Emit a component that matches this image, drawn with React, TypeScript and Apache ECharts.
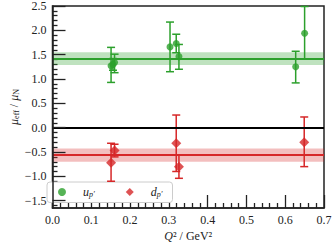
import React, { useEffect, useRef } from "react";
import * as echarts from "echarts";

const uQ2 = [0.151, 0.156, 0.160, 0.303, 0.319, 0.326, 0.627, 0.650];
const uVal = [1.27, 1.30, 1.34, 1.66, 1.73, 1.46, 1.25, 1.94];
const uLow = [0.93, 1.18, 1.13, 1.15, 1.54, 1.20, 0.92, 1.41];
const uHigh = [1.65, 1.42, 1.51, 2.17, 1.92, 1.71, 1.57, 2.49];

const dQ2 = [0.151, 0.160, 0.319, 0.326, 0.649];
const dVal = [-0.72, -0.47, -0.32, -0.80, -0.30];
const dLow = [-1.10, -0.60, -0.90, -1.04, -0.80];
const dHigh = [-0.32, -0.34, 0.26, -0.56, 0.22];

// [low, center, high]
const uBand = [1.29, 1.42, 1.55];
const dBand = [-0.70, -0.565, -0.43];

const yTicks = [-1.5, -1.0, -0.5, 0.0, 0.5, 1.0, 1.5, 2.0, 2.5];
const yMinorTicks = [
  -1.6, -1.4, -1.3, -1.2, -1.1, -0.9, -0.8, -0.7, -0.6, -0.4, -0.3, -0.2, -0.1,
  0.1, 0.2, 0.3, 0.4, 0.6, 0.7, 0.8, 0.9, 1.1, 1.2, 1.3, 1.4, 1.6, 1.7, 1.8, 1.9,
  2.1, 2.2, 2.3, 2.4,
];

const GREEN = "#2ca02c";
const RED = "#d62728";
const FONT = "'Liberation Serif', 'DejaVu Serif', serif";

function errSeries(name: string, xs: number[], lo: number[], hi: number[], color: string) {
  return {
    type: "custom",
    name: name + "_err",
    silent: true,
    data: xs.map((x, i) => [x, lo[i], hi[i]]),
    encode: { x: 0, y: [1, 2] },
    z: 3,
    renderItem: (params: any, api: any) => {
      const x = api.value(0);
      const p1 = api.coord([x, api.value(1)]);
      const p2 = api.coord([x, api.value(2)]);
      const hw = 4;
      const st = { stroke: color, lineWidth: 1.5 };
      return {
        type: "group",
        children: [
          { type: "line", shape: { x1: p1[0], y1: p1[1], x2: p2[0], y2: p2[1] }, style: st },
          { type: "line", shape: { x1: p1[0] - hw, y1: p1[1], x2: p1[0] + hw, y2: p1[1] }, style: st },
          { type: "line", shape: { x1: p2[0] - hw, y1: p2[1], x2: p2[0] + hw, y2: p2[1] }, style: st },
        ],
      };
    },
  };
}

const fmtY = (v: number) => {
  const s = Math.abs(v).toFixed(1);
  return v < -0.001 ? "−" + s : s;
};

export default function App() {
  const ref = useRef<HTMLDivElement>(null);
  useEffect(() => {
    const chart = echarts.init(ref.current!, null, { renderer: "svg" });
    const labelStyle = { fontFamily: FONT, fontSize: 12, color: "#222" };
    chart.setOption({
      animation: false,
      textStyle: { fontFamily: FONT },
      grid: {
        left: 41, right: 11, top: 3, bottom: 43,
        show: true, borderColor: "#222", borderWidth: 1.5, backgroundColor: "transparent",
      },
      legend: {
        left: 47, top: 182,
        padding: [4, 10, 4, 11],
        itemWidth: 8, itemHeight: 8, itemGap: 31,
        borderColor: "#ccc", borderWidth: 1, borderRadius: 3,
        backgroundColor: "#fff",
        z: 2,
        data: [
          { name: "u", icon: "circle" },
          { name: "d", icon: "diamond" },
        ],
        formatter: (n: string) => `{i|\u2003${n}}{s|p′}`,
        textStyle: {
          fontFamily: FONT,
          rich: {
            i: { fontFamily: FONT, fontStyle: "italic", fontSize: 12, color: "#222" },
            s: { fontFamily: FONT, fontStyle: "italic", fontSize: 8, color: "#222", padding: [5, 0, 0, 0] },
          },
        },
      },
      xAxis: {
        type: "value", min: 0, max: 0.7, interval: 0.1,
        name: "{i|Q}² / GeV²",
        nameLocation: "middle", nameGap: 22, nameMoveOverlap: false,
        nameTextStyle: {
          fontFamily: FONT, fontSize: 12, color: "#222",
          rich: { i: { fontFamily: FONT, fontStyle: "italic", fontSize: 12, color: "#222" } },
        },
        axisLine: { show: true, onZero: false, lineStyle: { color: "#222", width: 1.5 } },
        axisTick: { show: true, inside: true, length: 13, lineStyle: { color: "#222", width: 1.3 } },
        minorTick: { show: true, splitNumber: 5, length: 5, lineStyle: { color: "#222", width: 1.3 } },
        splitLine: { show: false },
        minorSplitLine: { show: false },
        axisLabel: { ...labelStyle, margin: 6, formatter: (v: number) => v.toFixed(1) },
      },
      yAxis: [
        {
          type: "value", min: -1.65, max: 2.5,
          name: "{m|μ}{s|eff} / {m|μ}{s|N}",
          nameLocation: "middle", nameGap: 32, nameRotate: 90, nameMoveOverlap: false,
          nameTextStyle: {
            fontFamily: FONT, fontSize: 12, color: "#222",
            rich: {
              m: { fontFamily: FONT, fontStyle: "italic", fontSize: 12, color: "#222" },
              s: { fontFamily: FONT, fontSize: 8, color: "#222", padding: [5, 0, 0, 0] },
            },
          },
          axisLine: { show: true, onZero: false, lineStyle: { color: "#222", width: 1.5 } },
          axisTick: { show: true, inside: true, length: 13, customValues: yTicks, lineStyle: { color: "#222", width: 1.3 } },
          axisLabel: { ...labelStyle, margin: 6, customValues: yTicks, hideOverlap: false, showMinLabel: true, formatter: fmtY },
          splitLine: { show: false },
          z: 5,
        },
        {
          type: "value", min: -1.65, max: 2.5, position: "left",
          axisLine: { show: false },
          axisTick: { show: true, inside: true, length: 5, customValues: yMinorTicks, lineStyle: { color: "#222", width: 1.3 } },
          axisLabel: { show: false },
          splitLine: { show: false },
        },
      ],
      series: [
        {
          type: "line", name: "bands", data: [], silent: true, z: 1,
          markArea: {
            silent: true,
            data: [
              [{ yAxis: uBand[0], itemStyle: { color: "rgba(44,160,44,0.3)" } }, { yAxis: uBand[2] }],
              [{ yAxis: dBand[0], itemStyle: { color: "rgba(214,39,40,0.3)" } }, { yAxis: dBand[2] }],
            ],
          },
          markLine: {
            silent: true, symbol: ["none", "none"], label: { show: false },
            data: [
              { yAxis: uBand[1], lineStyle: { color: GREEN, width: 2, type: "solid" } },
              { yAxis: dBand[1], lineStyle: { color: RED, width: 2, type: "solid" } },
              { yAxis: 0, lineStyle: { color: "#000", width: 2, type: "solid" } },
            ],
          },
        },
        errSeries("u", uQ2, uLow, uHigh, GREEN),
        errSeries("d", dQ2, dLow, dHigh, RED),
        {
          type: "scatter", name: "u", symbol: "circle", symbolSize: 7,
          itemStyle: { color: GREEN }, z: 4,
          data: uQ2.map((x, i) => [x, uVal[i]]),
        },
        {
          type: "scatter", name: "d", symbol: "diamond", symbolSize: 10,
          itemStyle: { color: RED }, z: 4,
          data: dQ2.map((x, i) => [x, dVal[i]]),
        },
      ],
    });
    return () => chart.dispose();
  }, []);
  return <div ref={ref} style={{ width: 335, height: 251, position: "absolute", left: 0, top: 0 }} />;
}
